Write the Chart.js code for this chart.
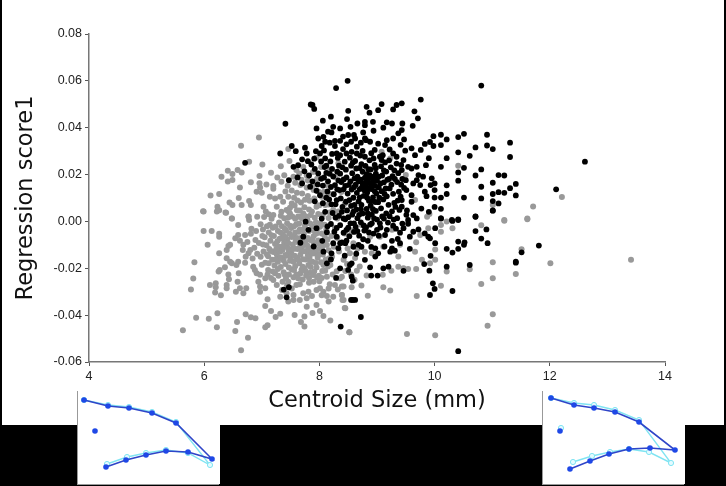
<!DOCTYPE html>
<html>
<head>
<meta charset="utf-8">
<title>Centroid size vs regression score</title>
<script src="https://cdn.jsdelivr.net/npm/chart.js@4"></script>
<style>
  html, body { margin: 0; padding: 0; background: #000; width: 726px; height: 486px; overflow: hidden; }
  #page { position: absolute; left: 2px; top: 0; width: 722px; height: 425px; background: #fff; }
  #mainWrap { position: absolute; left: 0; top: 0; width: 726px; height: 486px; }
  .inset { position: absolute; top: 390px; width: 142px; height: 94px; background: #fff; box-shadow: -1px 1px 0 #999; }
  #inset1 { left: 78px; }
  #inset2 { left: 543px; }
</style>
</head>
<body>
<div id="page"></div>
<div class="inset" id="inset1"><canvas id="leftShape" width="142" height="94"></canvas></div>
<div class="inset" id="inset2"><canvas id="rightShape" width="142" height="94"></canvas></div>
<div id="mainWrap"><canvas id="myChart" width="726" height="486"></canvas></div>
<script>
const xTicks = [4, 6, 8, 10, 12, 14];
const yTicks = [-0.06, -0.04, -0.02, 0, 0.02, 0.04, 0.06, 0.08];

// outliers first, the dense middle is a best estimate
const grayPoints = [
  [13.41,-.0164],[12.01,-.0179],[12.21,.0104],[11.71,.0064],[11.61,.0013],[11.21,.0006],[11.61,.0009],[11.21,.0003],
  [10.81,-.0016],[10.31,-.0029],[10.21,.0],[10.11,-.0015],[10.11,-.0044],[11.51,-.0119],[11.01,-.0174],[10.61,-.0204],
  [10.21,-.0214],[11.01,-.0243],[11.41,-.0224],[10.81,-.0267],[10.11,-.0275],[9.69,-.0318],[11.01,-.0396],[10.92,-.0445],
  [9.52,-.048],[10.01,-.0486],[8.52,-.0473],[8.45,-.0371],[8.84,-.0317],[9.23,-.0295],[9.11,-.0281],[8.73,-.0274],
  [8.56,-.0281],[9.68,-.0203],[9.54,-.0203],[9.46,-.02],[9.37,-.0193],[9.25,-.0211],[9.1,-.0228],[8.82,-.0231],
  [8.65,-.0211],[9.78,-.0164],[9.92,-.0179],[10.01,-.0164],[10.01,-.012],[9.66,-.0129],[9.68,-.0089],[9.4,-.01],
  [9.37,-.015],[9.11,-.0108],[8.91,-.0136],[8.79,-.0129],[8.59,-.0093],[8.53,-.0136],[8.42,-.0164],[8.39,-.0236],
  [8.42,-.0278],[8.39,-.0314],[8.42,-.0335],[8.73,-.0015],[9.05,-.0065],[9.75,-.0058],[9.89,-.0029],[9.91,.0032],
  [8.88,-.0065],[9.26,-.0036],[10.41,.0238],[9.5,.0198],[9.66,.0091],[11.01,.007],[9.87,.002],
  [5.63,-.0465],[6.64,-.055],[6.76,-.0496],[6.22,-.0452],[6.54,-.0468],[6.57,-.0429],[7.06,-.0452],[7.1,-.0443],
  [7.24,-.0408],[7.32,-.0394],[5.86,-.0411],[6.08,-.0415],[6.23,-.0392],[6.72,-.0396],[6.81,-.0409],[6.89,-.0413],
  [7.16,-.0382],[7.06,-.0361],[7.1,-.0332],[7.57,-.0399],[7.74,-.0406],[7.68,-.0429],[7.74,-.0448],[7.88,-.0391],
  [8.01,-.0382],[8.07,-.0404],[8.19,-.0423],[8.52,-.0473],[8.44,-.0369],[5.77,-.0291],[5.81,-.0244],[5.83,-.0174],
  [6.06,-.01],[5.99,-.0041],[6.13,-.0041],[6.26,-.0053],[6.26,-.0065],[5.99,.0042],[6.22,.0042],[6.37,.0038],
  [6.48,.0013],[6.59,-.0015],[6.77,.0021],[6.78,.0006],[6.54,-.0072],[6.59,-.0058],[6.71,-.0058],[6.81,-.0053],
  [6.26,-.0136],[6.39,-.0122],[6.42,-.0105],[6.45,-.01],[6.62,-.0083],[6.68,-.01],[6.67,-.0122],[6.8,-.0122],
  [6.77,-.0136],[6.89,-.0079],[6.39,-.0157],[6.45,-.0172],[6.48,-.0179],[6.56,-.0186],[6.59,-.0172],[6.71,-.0176],
  [6.36,-.0196],[6.27,-.0207],[6.25,-.0214],[6.42,-.0226],[6.43,-.0247],[6.39,-.0271],[6.39,-.0285],[6.6,-.0221],
  [6.58,-.0257],[6.1,-.0271],[6.2,-.0264],[6.2,-.0281],[6.19,-.0303],[6.29,-.0315],[6.55,-.03],[6.62,-.0285],
  [6.68,-.0307],[6.73,-.0285],[6.94,-.0257],[6.97,-.0278],[6.97,-.03],[7.06,-.0285],[6.85,-.0193],[6.88,-.0207],
  [6.91,-.0221],[6.97,-.0228],[7.06,-.0243],[7.11,-.0207],[7.2,-.025],[7.26,-.0271],[7.35,-.0293],[7.43,-.0307],
  [7.32,-.0321],[7.55,-.0314],[7.46,-.0342],[7.55,-.0335],[7.66,-.0335],[7.78,-.0328],[7.81,-.03],[7.72,-.0307],
  [7.95,-.0293],[8.01,-.0285],[8.07,-.03],[8.13,-.0318],[8.16,-.0342],[8.24,-.0321],[8.27,-.0271],[8.39,-.0278],
  [8.39,-.0314],[8.4,-.0335],[8.13,-.0236],[7.9,-.0257],[7.78,-.0364],[7.95,-.0357],[7.6,-.0271],[7.46,-.0257],
  [7.4,-.0228],[7.23,-.0221],
  [6.95,.0358],[6.64,.0323],[6.78,.0255],[7.01,.0243],[6.41,.0216],[6.58,.0219],[6.65,.0209],[6.49,.0202],
  [6.3,.0191],[6.41,.017],[6.49,.0177],[6.81,.0167],[6.96,.0194],[7.16,.0208],[7.33,.0236],[7.48,.0258],
  [7.46,.0309],[6.62,.0145],[6.96,.0163],[6.97,.0145],[7.08,.0158],[7.2,.0151],[7.27,.0188],[7.34,.0169],
  [6.91,.0127],[7.0,.0122],[7.2,.014],[6.11,.0111],[6.26,.0117],[6.6,.01],[6.44,.0081],[6.49,.007],
  [6.65,.007],[6.78,.0087],[6.81,.007],[5.98,.0043],[6.23,.0063],[6.26,.0048],[6.38,.0037],[6.48,.0013],
  [6.77,.002],[6.92,.002],[7.03,.0063],[7.07,.0042],[7.2,.0027],[7.14,.0105],[7.23,.0098],[7.32,.0105],
  [7.37,.0084],[7.26,.0063],[7.46,.0105],[7.52,.0077],[7.61,.0048],[7.72,.0034],[7.49,.0034],[7.66,.002],
  [7.9,.0134],[8.04,.0105],[8.1,.007],[7.95,.0063],[8.33,.0248],[9.08,.0297],[9.23,.0269],[7.95,.0273],
  [7.58,.0165],[7.65,.0205],[7.72,.0232],[7.78,.0145],[7.61,.0122],[7.83,.0088],[7.96,.0182],[8.12,.0155],
  [8.23,.0117],[8.18,.0038],[8.31,.0012],[8.44,.0075],
  // dense middle
  [6.98,-.0012],[7.02,-.0034],[7.05,-.0068],[7.08,-.0102],[7.03,-.0128],[6.98,-.0151],[7.06,-.0176],[7.11,-.0149],
  [7.13,-.0118],[7.15,-.0083],[7.12,-.0047],[7.14,-.0014],[7.17,.0011],[7.19,-.0027],[7.21,-.0062],[7.23,-.0096],
  [7.2,-.0131],[7.18,-.0164],[7.22,-.0188],[7.28,-.0172],[7.26,-.0141],[7.29,-.0108],[7.31,-.0074],[7.28,-.0041],
  [7.3,-.0005],[7.33,.0024],[7.35,-.0021],[7.37,-.0058],[7.39,-.0089],[7.36,-.0122],[7.34,-.0155],[7.33,-.0194],
  [7.38,-.0217],[7.41,-.0182],[7.43,-.0146],[7.45,-.0112],[7.44,-.0076],[7.42,-.0039],[7.44,-.0008],[7.46,.0017],
  [7.49,.0058],[7.51,-.0028],[7.52,-.0066],[7.54,-.0099],[7.51,-.0135],[7.49,-.0168],[7.52,-.0205],[7.55,-.0238],
  [7.58,-.0191],[7.6,-.0155],[7.62,-.0118],[7.59,-.0083],[7.58,-.0047],[7.6,-.0012],[7.63,.0021],[7.66,-.0034],
  [7.68,-.0071],[7.7,-.0107],[7.67,-.0142],[7.65,-.0178],[7.67,-.0222],[7.71,-.0248],[7.74,-.0201],[7.76,-.0163],
  [7.78,-.0126],[7.75,-.0091],[7.73,-.0054],[7.75,-.0016],[7.79,.0008],[7.82,-.0041],[7.84,-.0079],[7.86,-.0114],
  [7.83,-.015],[7.81,-.0186],[7.84,-.0219],[7.88,-.0172],[7.91,-.0137],[7.93,-.0098],[7.9,-.0063],[7.88,-.0022],
  [7.92,.0016],[7.96,-.0034],[7.98,-.0081],[8.0,-.0118],[7.97,-.0155],[7.95,-.0197],[7.99,-.0232],[8.03,-.0174],
  [8.06,-.0141],[8.08,-.0094],[8.04,-.0052],[8.02,-.0008],[8.06,.0028],[8.12,-.0036],[8.14,-.0077],[8.16,-.0123],
  [8.11,-.0163],[8.1,-.021],[8.19,-.0186],[8.22,-.0151],[8.25,-.0108],[8.21,-.0062],[8.27,-.0027],[8.31,-.0071],
  [8.34,-.0128],[8.3,-.0213],[8.36,-.0242],[8.48,-.0182],[8.55,-.0227],[8.62,-.0156],[8.7,-.0192],[7.04,.0019],
  [6.9,-.0041],[6.87,-.0112],[6.92,-.0138],[6.84,-.0158],[6.95,-.0092],[7.62,.0089],[7.74,.0061],[7.87,.0042],
  [7.44,-.0272],[7.52,-.0286],[7.66,-.0268],[7.82,-.0262],[8.0,-.0255],[8.18,-.0268],
  [7.09,-.0021],[7.16,-.0126],[7.24,-.0022],[7.27,-.0085],[7.32,-.0129],[7.38,-.0167],[7.47,-.0197],[7.42,-.0093],
  [7.48,-.0051],[7.47,-.0128],[7.55,-.0172],[7.57,-.0117],[7.55,-.0062],[7.56,-.0021],[7.64,-.0091],[7.63,-.0163],
  [7.71,-.0193],[7.69,-.0126],[7.72,-.0033],[7.8,-.0071],[7.79,-.0103],[7.8,-.0144],[7.85,-.0194],[7.94,-.0177],
  [7.94,-.0124],[7.95,-.0052],[8.01,-.0023],[8.05,-.0111],[8.07,-.0186],[8.17,-.0157],[8.13,-.0101],[7.36,-.0106],
  [7.41,-.0143],[7.25,-.0119],[7.17,-.0059],[7.39,.0014],[7.53,.0021],[7.7,.0013],[7.85,.0027],[7.98,.0032],
  [7.57,.0068],[7.43,.0049],[7.34,.0041],[7.68,.0081],[7.8,.0109],[7.7,.0119],[7.88,.0155],[7.52,.0132],
  [7.41,.0128],[7.12,.0031],[7.01,-.0062],[7.0,-.0185],[7.1,-.0226],[7.29,-.0232],[7.42,-.0243],[7.6,-.0226],
  [7.77,-.0231],[7.91,-.0214],[8.05,-.0212],[8.23,-.0227],[7.16,-.0241],[6.75,-.0088],[6.82,-.0031],[6.72,-.0151],
  [7.67,.0155],[7.8,.0175],[8.08,.0127],[8.16,.0072],[8.24,.0049],[8.33,.0042],[8.0,.0069],[7.76,.0022],
  // second pass over the solid grey patch
  [7.31,-.0156],[7.35,-.0072],[7.4,-.0031],[7.46,-.0092],[7.5,-.0152],[7.53,-.0118],[7.57,-.0147],[7.61,-.0071],
  [7.64,-.0044],[7.67,-.0109],[7.72,-.0161],[7.74,-.0127],[7.77,-.0078],[7.81,-.0121],[7.84,-.0168],[7.87,-.0136],
  [7.89,-.0086],[7.92,-.0043],[7.99,-.0142],[8.02,-.0099],[8.09,-.0061],[8.15,-.0192],[7.56,-.0207],[7.63,-.0242],
  [7.69,-.0206],[7.76,-.0212],[7.82,-.0241],[7.89,-.0229],[7.96,-.0239],[8.04,-.0241],[7.24,-.0162],[7.28,-.0203],
  [7.36,-.0258],[7.47,-.0226],[7.12,-.0179],[7.19,-.0214],[7.02,-.0098],[7.09,-.0141],[7.33,-.0048],[7.41,-.0066],
  [7.49,-.0018],[7.58,.0011],[7.65,-.0009],[7.71,-.0084],[7.84,-.0009],[7.94,-.0003],[8.09,-.0014],[8.16,.0015],
  [7.47,.0041],[7.56,.0101],[7.66,.0047],[7.75,.0092],[7.82,.0051],[7.91,.0098],[7.99,.0127],[8.07,.0188],
  [8.18,.0221],[8.03,.0232],[7.89,.0211],[7.78,.0196],[7.69,.0178],[7.6,.0219],[7.55,.0191],[7.45,.0152],
  [7.39,.0197],[8.27,.0189],[8.38,.0126],[8.15,.0119],[8.44,-.0052],[8.55,-.0038],[8.49,-.0116],[8.66,-.0116],
  [8.45,-.0212],[8.61,-.0249],[8.32,-.0291],[8.16,-.0286],[8.04,-.0315],[7.87,-.0318]
];

const blackPoints = [
  [8.49,.06],[8.29,.0569],[7.85,.0499],[7.88,.0497],[7.91,.048],[8.82,.0489],[9.08,.0501],[9.02,.0475],
  [8.87,.0464],[9.28,.0478],[9.34,.0497],[8.5,.0472],[8.2,.0447],[8.06,.043],[8.48,.0437],[7.41,.0417],
  [8.79,.0425],[8.79,.0411],[8.93,.0425],[9.17,.0423],[9.26,.0418],[9.11,.04],[8.54,.0404],[8.24,.0404],
  [7.95,.0397],[8.36,.0397],[8.66,.0418],[8.94,.0387],[8.76,.038],[8.15,.0383],[8.21,.038],[8.5,.0369],
  [8.41,.0362],[8.6,.0369],[7.98,.0354],[8.07,.0361],[8.04,.0322],[8.1,.034],[8.18,.0336],[8.27,.0344],
  [8.36,.0344],[8.27,.0322],[8.81,.0347],[8.88,.034],[8.79,.0354],[8.62,.0354],[8.65,.0319],[9.28,.0354],
  [9.17,.0347],[9.14,.0326],[9.37,.0376],[8.96,.0305],[7.52,.0322],[7.75,.0315],[7.32,.029],[7.59,.03],
  [7.78,.029],[7.94,.03],[8.01,.029],[8.1,.0269],[8.3,.029],[8.36,.0283],[8.47,.029],[8.65,.029],
  [8.79,.0276],[8.94,.0269],[9.08,.0262],[9.28,.029],[9.34,.0276],[6.71,.025],[7.55,.0233],[7.63,.024],
  [7.47,.0176],
  [10.81,.058],[9.76,.052],[9.43,.0504],[9.65,.047],[9.71,.044],[9.62,.0408],[9.44,.0418],[9.43,.039],
  [9.47,.035],[12.61,.0255],[10.51,.0374],[10.41,.036],[10.11,.037],[9.98,.0364],[10.21,.035],[9.92,.0339],
  [9.83,.0331],[9.98,.0322],[10.11,.0326],[10.91,.037],[10.91,.0324],[11.01,.0309],[11.31,.0336],[11.31,.0275],
  [10.71,.0316],[10.41,.0295],[10.61,.028],[10.21,.027],[9.9,.027],[9.76,.0305],[9.6,.0312],[9.49,.0302],
  [9.66,.0283],[9.85,.024],[10.11,.0233],[10.51,.0229],[10.41,.0209],[10.41,.0174],[10.81,.0222],[10.71,.0196],
  [11.11,.0198],[11.21,.0196],[11.01,.0165],[10.81,.0148],[11.41,.016],[11.31,.0142],[11.21,.0122],[11.11,.0125],
  [11.01,.0117],[11.41,.0111],[10.81,.0098],[10.51,.0102],[10.21,.0154],[10.21,.0117],[10.11,.0102],[10.0,.0102],
  [9.95,.0184],[10.0,.0162],[9.93,.0155],[9.8,.0191],[9.72,.0198],[9.69,.0176],[9.63,.0162],[9.75,.0155],
  [9.83,.0127],[10.0,.0134],[9.86,.0108],[9.6,.0226],[9.69,.0233],[9.54,.0233],[9.43,.0219],[9.51,.0134],
  [9.6,.0112],[9.6,.0084],[9.77,.0055],[10.0,.0062],[10.11,.0054],[9.9,.0041],[11.01,.0087],[11.11,.0077],
  [11.01,.0047],[10.71,.002],[10.11,.0013],[10.41,.0009],[10.3,.0006],[9.63,.0027],[9.69,.0013],[9.43,.0091],
  [9.43,.0063],[12.11,.0137],
  [11.01,.0046],[10.71,.0021],[10.41,.0006],[10.31,.0002],[10.11,.0013],[10.9,-.0034],[10.71,-.0041],[10.81,-.0073],
  [10.92,-.0093],[11.81,-.0103],[10.52,-.0089],[10.51,-.01],[10.41,-.0086],[10.41,-.0117],[10.31,-.0133],[10.21,-.0117],
  [11.51,-.0132],[11.41,-.0172],[11.41,-.0176],[10.61,-.0186],[10.21,-.0193],[9.91,-.021],[10.01,-.0093],[9.93,-.0147],
  [9.82,-.0182],[9.97,-.0264],[10.0,-.0288],[9.92,-.0314],[10.31,-.0297],[10.41,-.0554],[8.72,-.0408],[8.37,-.0449],
  [8.58,-.0335],[8.62,-.0335],[8.58,-.0253],[8.56,-.0236],[8.9,-.0231],[9.01,-.0231],[8.88,-.0196],[9.11,-.02],
  [9.2,-.0193],[9.46,-.0211],[10.01,-.0029],[9.89,-.0065],[9.92,-.0072],[9.83,-.0051],[9.57,-.0065],[9.72,-.0034],
  [9.63,-.0044],[9.54,.0006],[9.54,-.001],[9.4,-.0048],[9.46,-.0029],[9.26,-.0083],[9.17,-.0036],[9.0,-.0036],
  [9.05,-.0008],[8.91,-.0008],[9.4,-.0093],[9.57,-.0117],[9.26,-.0115],[9.23,-.0129],[9.31,-.0125],[8.97,-.0115],
  [9.02,-.0136],[8.97,-.015],[8.79,-.0164],[8.73,-.0108],[8.68,-.01],[8.47,-.0082],[8.36,-.0093],[8.53,-.0186],
  [8.36,-.02],[7.38,-.0291],[7.47,-.0281],[7.43,-.0324],[8.29,-.0241],[8.55,-.0335],[7.72,-.0065],[7.81,-.0036],
  [7.95,-.0029],[7.76,-.0001],[8.07,-.0129],[8.21,-.0136],[8.2,-.0162],[8.13,-.0179],[8.5,-.0207],[8.56,-.0179],
  [8.24,-.0093],[8.39,-.009],[8.45,-.0093],[8.59,-.0108],
  // dense middle
  [7.62,.0188],[7.7,.0162],[7.74,.0214],[7.82,.0196],[7.88,.0171],[7.86,.0243],[7.92,.0224],[7.98,.0205],
  [8.03,.0182],[7.95,.0131],[8.01,.0112],[8.06,.0153],[8.09,.0232],[8.12,.0207],[8.15,.0171],[8.14,.0128],
  [8.17,.0094],[8.1,.0041],[8.04,.0012],[8.19,.0256],[8.22,.0224],[8.24,.0192],[8.27,.0155],[8.25,.0116],
  [8.28,.0073],[8.23,.0036],[8.2,-.0011],[8.26,-.0044],[8.32,.0271],[8.34,.0238],[8.36,.0204],[8.38,.0168],
  [8.35,.0134],[8.37,.0098],[8.4,.0062],[8.34,.0024],[8.36,-.0016],[8.42,-.0048],[8.44,.0255],[8.46,.0221],
  [8.47,.0188],[8.45,.0152],[8.49,.0119],[8.46,.0084],[8.48,.0047],[8.45,.0009],[8.5,-.0027],[8.53,.0272],
  [8.55,.0238],[8.57,.0206],[8.54,.0171],[8.56,.0136],[8.59,.0101],[8.55,.0066],[8.57,.0029],[8.54,-.0008],
  [8.6,-.0045],[8.62,.0258],[8.64,.0226],[8.66,.0191],[8.63,.0157],[8.65,.0122],[8.68,.0086],[8.64,.0051],
  [8.66,.0014],[8.63,-.0023],[8.69,-.0061],[8.71,.0281],[8.73,.0245],[8.75,.0212],[8.72,.0178],[8.74,.0146],
  [8.77,.0109],[8.73,.0071],[8.75,.0034],[8.72,-.0004],[8.78,-.0039],[8.8,.0237],[8.82,.0202],[8.84,.0171],
  [8.81,.0151],[8.83,.0124],[8.86,.0088],[8.82,.0053],[8.84,.0016],[8.81,-.0026],[8.87,.0261],[8.89,.0222],
  [8.91,.0186],[8.88,.0163],[8.9,.0138],[8.93,.0103],[8.89,.0067],[8.91,.0029],[8.88,-.0014],[8.94,-.0052],
  [8.96,.0241],[8.98,.0204],[9.0,.0174],[8.97,.0152],[8.99,.0119],[9.02,.0082],[8.98,.0045],[9.0,.0008],
  [9.05,.0276],[9.07,.0235],[9.09,.0196],[9.06,.0162],[9.08,.0129],[9.11,.0094],[9.07,.0056],[9.09,.0021],
  [9.06,-.0026],[9.14,.0252],[9.16,.0213],[9.18,.0178],[9.15,.0141],[9.17,.0107],[9.2,.0071],[9.16,.0034],
  [9.19,-.0005],[9.24,.0231],[9.27,.0193],[9.25,.0157],[9.28,.0118],[9.3,.0079],[9.26,.0043],[9.29,.0008],
  [9.34,.0247],[9.37,.0206],[9.35,.0168],[9.38,.0127],[9.36,.0089],[9.39,.0049],[9.35,.0014],[9.33,-.0031],
  [9.46,.0262],[9.44,.0181],[9.47,.0143],[9.5,.0176],[9.52,.0047],[7.92,.0086],[8.13,-.0046],[8.3,-.0065],
  [7.67,-.0091],[7.9,-.0107],[8.05,-.0083],[8.33,-.0114],[8.44,-.0146],[8.64,-.0138],[8.84,-.0083],[8.9,-.0109],
  [8.85,.0182],[8.8,.0166],[8.92,.0158],[8.86,.0142],[8.94,.0171],[8.78,.0133],[8.96,.0129],[8.87,.0197],
  [8.95,.0192],[8.79,.0187],[9.03,.0145],[8.75,.0161],[8.68,.0171],[8.7,.0138],[8.83,.0101],[8.92,.0088],
  [8.7,.0103],[8.6,.0146],[8.61,.0184],[8.51,.0156],[8.42,.0137],[8.52,.0091],[8.61,.0071],[8.72,.0052],
  [8.93,.0052],[8.42,.0179],[8.31,.0212],[8.4,.0231],[8.58,.0251],[8.7,.0228],[8.85,.0223],[8.98,.0227],
  [9.12,.0218],[9.03,.0191],[9.12,.0167],[9.22,.0141],[9.13,.0118],[9.04,.0101],[8.97,.0083],[8.84,.0034],
  [8.69,.0028],[8.59,.0042],[8.5,.0018],[8.39,.0041],[8.3,.0091],[8.31,.0137],[8.2,.0147],[8.33,.0175],
  [8.18,.0203],[8.08,.0187],[7.97,.0158],[8.12,.0101],[8.06,.0078],[8.21,.0073],[8.42,.0013],[8.6,-.0008],
  [8.77,-.0017],[8.95,.0013],[9.12,.0012],[9.22,.0022],[9.32,.0062],[9.41,.0106],[9.42,.0157],[9.31,.0181],
  [9.21,.0181],[9.3,.0218],[9.42,.0241],[9.21,.0261],[9.1,.0283],[8.9,.0291],[8.75,.0301],[8.56,.0297],
  [8.41,.0309],[8.22,.0288],[8.08,.0303],[7.91,.0268],[7.8,.0257],[7.7,.0265],[8.47,.0329],[8.72,.0336],
  [9.02,.0332],[9.22,.0307],[9.41,.0327],[8.55,.034],[8.12,.0238],[8.03,.0256],[7.84,.0148],[8.28,.0017],
  [8.47,-.0036],[8.66,-.0041],[8.86,-.0047],[9.03,-.0061],[9.14,-.0058],[9.28,-.0018],[9.44,-.0009],[9.51,.0028],
  [8.3,-.0028],[8.14,-.0021],[8.52,-.0063],[8.76,-.0076],[9.13,-.0107],[9.36,-.0075]
];

const leftDarkX = [6, 30, 51, 74, 98, 134, 110, 88, 68, 48, 28];
const leftDarkY = [10, 16, 18, 23, 33, 69, 62, 61, 65, 70, 77];
const leftLightX = [6, 30, 51, 74, 98, 132, 110, 88, 68, 49, 29];
const leftLightY = [10, 15, 17, 22, 32, 75, 63, 60, 63, 67, 74];
const leftSpot = [{ x: 17, y: 41 }];

const rightDarkX = [8, 31, 51, 72, 96, 132, 107, 86, 66, 47, 27];
const rightDarkY = [8, 15, 18, 22, 32, 60, 58, 59, 64, 71, 79];
const rightLightX = [8, 31, 51, 72, 96, 128, 106, 86, 67, 49, 30];
const rightLightY = [8, 13, 15, 20, 30, 73, 62, 59, 62, 66, 72];
const rightSpot = [{ x: 17, y: 41 }];
const rightLightSpot = [{ x: 18, y: 38 }];

function toXY(xs, ys) {
  return xs.map((x, i) => ({ x: x, y: ys[i] }));
}

function toPoints(rows) {
  return rows.map((p) => ({ x: p[0], y: p[1] }));
}

new Chart("myChart", {
  type: "scatter",
  data: {
    datasets: [
      {
        data: toPoints(grayPoints),
        backgroundColor: "#999999",
        borderWidth: 0,
        pointRadius: 3,
        order: 2,
      },
      {
        data: toPoints(blackPoints),
        backgroundColor: "#000000",
        borderWidth: 0,
        pointRadius: 2.9,
        order: 1,
      },
    ],
  },
  options: {
    responsive: false,
    animation: false,
    layout: { padding: { left: 0, top: 34, right: 61, bottom: 71 } },
    plugins: { legend: { display: false }, tooltip: { enabled: false } },
    scales: {
      x: {
        type: "linear",
        min: 4,
        max: 14,
        afterBuildTicks: (scale) => {
          scale.ticks = xTicks.map((v) => ({ value: v }));
        },
        afterFit: (scale) => {
          scale.height = 53;
        },
        grid: { drawOnChartArea: false, drawTicks: true, tickLength: 4, tickColor: "#555" },
        border: { display: true, color: "#777", width: 1.5 },
        ticks: { color: "#222", font: { family: "Liberation Sans", size: 12.5 }, padding: 3, maxRotation: 0 },
        title: {
          display: true,
          text: "Centroid Size (mm)",
          color: "#111",
          font: { family: "DejaVu Sans", size: 22.5 },
          padding: { top: 0, bottom: 0 },
        },
      },
      y: {
        type: "linear",
        min: -0.06,
        max: 0.08,
        afterBuildTicks: (scale) => {
          scale.ticks = yTicks.map((v) => ({ value: v }));
        },
        afterFit: (scale) => {
          scale.width = 89;
        },
        grid: { drawOnChartArea: false, drawTicks: true, tickLength: 4, tickColor: "#555" },
        border: { display: true, color: "#777", width: 1.5 },
        ticks: {
          color: "#222",
          font: { family: "Liberation Sans", size: 12.5 },
          padding: 3,
          callback: (v) => v.toFixed(2),
        },
        title: {
          display: true,
          text: "Regression score1",
          color: "#111",
          font: { family: "DejaVu Sans", size: 22.5 },
          padding: { top: 13, bottom: 0 },
        },
      },
    },
  },
});

function drawShape(canvasId, darkX, darkY, lightX, lightY, spot, lightSpot) {
  new Chart(canvasId, {
    type: "scatter",
    data: {
      datasets: [
        {
          data: toXY(darkX, darkY),
          showLine: true,
          borderColor: "#2f45c8",
          borderWidth: 1.6,
          backgroundColor: "#1f48e6",
          pointRadius: 2.8,
          pointBorderWidth: 0,
          order: 1,
        },
        {
          data: spot,
          backgroundColor: "#1f48e6",
          pointRadius: 2.8,
          pointBorderWidth: 0,
          order: 1,
        },
        {
          data: toXY(lightX, lightY),
          showLine: true,
          borderColor: "#80e4f2",
          borderWidth: 1.4,
          backgroundColor: "#e4fbff",
          pointRadius: 2.6,
          pointBorderColor: "#80e4f2",
          pointBorderWidth: 1,
          order: 2,
        },
        {
          data: lightSpot,
          backgroundColor: "#e4fbff",
          pointRadius: 2.6,
          pointBorderColor: "#80e4f2",
          pointBorderWidth: 1,
          order: 2,
        },
      ],
    },
    options: {
      responsive: false,
      animation: false,
      layout: { padding: 0, autoPadding: false },
      plugins: { legend: { display: false }, tooltip: { enabled: false } },
      scales: {
        x: { display: false, min: 0, max: 142 },
        y: { display: false, min: 0, max: 94, reverse: true },
      },
    },
  });
}

drawShape("leftShape", leftDarkX, leftDarkY, leftLightX, leftLightY, leftSpot, []);
drawShape("rightShape", rightDarkX, rightDarkY, rightLightX, rightLightY, rightSpot, rightLightSpot);
</script>
</body>
</html>
